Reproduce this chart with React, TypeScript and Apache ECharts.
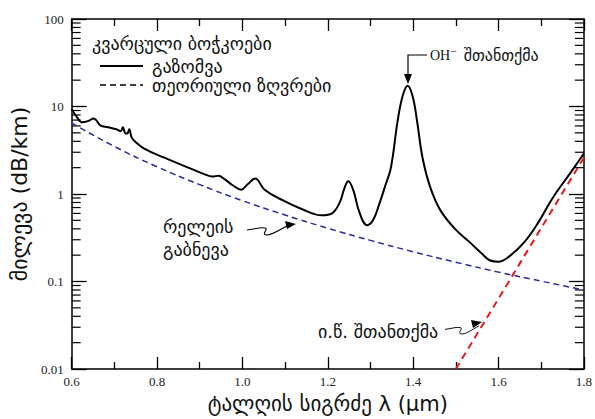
import React, { useEffect, useRef } from "react";
import * as echarts from "echarts";

// measured attenuation (wavelength µm, loss dB/km)
const measuredWl = [
  0.6, 0.612, 0.625, 0.638, 0.652, 0.667, 0.685, 0.705, 0.715, 0.72, 0.725, 0.73, 0.735, 0.74, 0.748,
  0.77, 0.817, 0.863, 0.909, 0.93, 0.944, 0.958, 0.978, 0.997, 1.013, 1.03, 1.052, 1.094, 1.14,
  1.186, 1.21, 1.228, 1.24, 1.248, 1.26, 1.274, 1.292, 1.306, 1.32, 1.336, 1.348, 1.364, 1.376,
  1.387, 1.399, 1.41, 1.422, 1.44, 1.464, 1.498, 1.533, 1.56, 1.579, 1.6, 1.623, 1.66, 1.694,
  1.728, 1.763, 1.8,
];
const measuredLoss = [
  9.4, 7.6, 6.6, 6.8, 7.3, 6.1, 5.8, 5.5, 5.2, 5.8, 5.0, 4.9, 5.5, 4.5, 4.0,
  3.3, 2.6, 2.1, 1.7, 1.58, 1.62, 1.48, 1.25, 1.12, 1.3, 1.5, 1.12, 0.85, 0.67,
  0.57, 0.6, 0.8, 1.2, 1.4, 1.1, 0.62, 0.44, 0.5, 0.75, 1.3, 2.0, 7.0, 13.5,
  17.3, 13.0, 6.4, 2.6, 1.2, 0.65, 0.4, 0.28, 0.21, 0.175, 0.168, 0.19, 0.28, 0.48,
  0.92, 1.6, 2.9,
];
// theoretical Rayleigh scattering limit
const rayleighWl = [0.6, 0.7, 0.8, 0.9, 1.0, 1.1, 1.2, 1.3, 1.4, 1.5, 1.6, 1.7, 1.8];
const rayleighLoss = [6.5, 3.5, 2.05, 1.28, 0.84, 0.575, 0.406, 0.295, 0.219, 0.166, 0.128, 0.101, 0.08];
// infrared absorption limit
const irWl = [1.5, 1.8];
const irLoss = [0.01, 2.6];

const yMinorTicks = [
  0.02, 0.03, 0.04, 0.05, 0.06, 0.07, 0.08, 0.09,
  0.2, 0.3, 0.4, 0.5, 0.6, 0.7, 0.8, 0.9,
  2, 3, 4, 5, 6, 7, 8, 9,
  20, 30, 40, 50, 60, 70, 80, 90,
];

const legendTitle = "კვარცული ბოჭკოები";
const legendMeasured = "გაზომვა";
const legendTheory = "თეორიული ზღვრები";
const ohLabel = "შთანთქმა";
const rayleighLabel = "რელეის\nგაბნევა";
const irLabel = "ი.წ. შთანთქმა";
const xName = "ტალღის სიგრძე λ (μm)";
const yName = "მილევა (dB/km)";

const FONT = '"Liberation Serif", "DejaVu Sans", serif';
const GFONT = '"DejaVu Sans", sans-serif';

const squiggle = "M0,6 C8,5 14,3 18,4 C22,5 14,10 19,11 C24,12 32,6 40,2";
echarts.graphic.registerShape("squiggle", echarts.graphic.extendPath(squiggle, {}) as any);

export default function App() {
  const ref = useRef<HTMLDivElement>(null);
  useEffect(() => {
    if (!ref.current) return;
    document.body.style.margin = "0";
    const chart = echarts.init(ref.current, undefined, { renderer: "svg" });
    const axisLine = { show: true, lineStyle: { color: "#000", width: 1.5 } };
    const axisLabel = { fontFamily: FONT, fontSize: 13, color: "#222" };
    const tickStyle = { color: "#000", width: 1.3 };
    chart.setOption({
      animation: false,
      backgroundColor: "#fff",
      grid: { left: 66, right: 9, top: 19, bottom: 45, containLabel: false },
      xAxis: [
        {
          type: "value",
          min: 0.6,
          max: 1.8,
          interval: 0.2,
          axisLine,
          axisTick: { inside: true, length: 12, lineStyle: tickStyle },
          minorTick: { show: true, splitNumber: 2, length: 7, lineStyle: tickStyle },
          splitLine: { show: false },
          axisLabel: { ...axisLabel, margin: 6, formatter: (v: number) => v.toFixed(1) },
          name: xName,
          nameLocation: "middle",
          nameGap: 24,
          nameTextStyle: { fontFamily: GFONT, fontSize: 21, color: "#111" },
        },
        {
          type: "value",
          position: "top",
          min: 0.6,
          max: 1.8,
          interval: 0.2,
          axisLine,
          axisTick: { inside: true, length: 12, lineStyle: tickStyle },
          minorTick: { show: true, splitNumber: 2, length: 7, lineStyle: tickStyle },
          splitLine: { show: false },
          axisLabel: { show: false },
        },
      ],
      yAxis: [
        {
          type: "log",
          logBase: 10,
          min: 0.01,
          max: 100,
          axisLine,
          axisTick: { inside: true, length: 15, lineStyle: tickStyle },
          splitLine: { show: false },
          axisLabel: {
            ...axisLabel,
            margin: 8,
            formatter: (v: number) => (v >= 1 ? String(Math.round(v)) : String(Number(v.toPrecision(1)))),
          },
          name: yName,
          nameLocation: "middle",
          nameGap: 23,
          nameRotate: 90,
          nameTextStyle: { fontFamily: GFONT, fontSize: 22, color: "#111" },
        },
        {
          type: "log",
          logBase: 10,
          position: "right",
          min: 0.01,
          max: 100,
          axisLine,
          axisTick: { inside: true, length: 15, lineStyle: tickStyle },
          splitLine: { show: false },
          axisLabel: { show: false },
        },
      ],
      series: [
        {
          type: "custom",
          silent: true,
          data: yMinorTicks.map((v) => [0.6, v]),
          renderItem: (_p: any, api: any) => {
            const v = api.value(1);
            const l = api.coord([0.6, v]);
            const r = api.coord([1.8, v]);
            const st = { stroke: "#000", lineWidth: 1.2 };
            return {
              type: "group",
              children: [
                { type: "line", shape: { x1: l[0], y1: l[1], x2: l[0] + 9, y2: l[1] }, style: st },
                { type: "line", shape: { x1: r[0], y1: r[1], x2: r[0] - 9, y2: r[1] }, style: st },
              ],
            };
          },
        },
        {
          type: "line",
          data: rayleighWl.map((w, i) => [w, rayleighLoss[i]]),
          smooth: true,
          showSymbol: false,
          symbol: "none",
          lineStyle: { color: "#2a2a9a", width: 1.5, type: [6, 4] },
        },
        {
          type: "line",
          data: irWl.map((w, i) => [w, irLoss[i]]),
          showSymbol: false,
          symbol: "none",
          lineStyle: { color: "#e31a1c", width: 2, type: [7, 5] },
        },
        {
          type: "line",
          data: measuredWl.map((w, i) => [w, measuredLoss[i]]),
          smooth: 0.4,
          showSymbol: false,
          symbol: "none",
          lineStyle: { color: "#000", width: 2 },
          z: 5,
        },
      ],
      graphic: [
        { type: "text", x: 92, y: 43, style: { text: legendTitle, font: `18px ${GFONT}`, fill: "#111", verticalAlign: "middle" } },
        { type: "line", shape: { x1: 100, y1: 66, x2: 143, y2: 66 }, style: { stroke: "#000", lineWidth: 2 } },
        { type: "text", x: 152, y: 66, style: { text: legendMeasured, font: `18px ${GFONT}`, fill: "#111", verticalAlign: "middle" } },
        { type: "line", shape: { x1: 100, y1: 85, x2: 143, y2: 85 }, style: { stroke: "#000", lineWidth: 1.3, lineDash: [6, 4] } },
        { type: "text", x: 152, y: 85, style: { text: legendTheory, font: `18px ${GFONT}`, fill: "#111", verticalAlign: "middle" } },
        // OH annotation
        { type: "polyline", shape: { points: [[427, 55], [408, 55], [408, 76]] }, style: { stroke: "#000", lineWidth: 1.2, fill: null } },
        { type: "polygon", shape: { points: [[404, 74], [412, 74], [408, 84]] }, style: { fill: "#000" } },
        {
          type: "text",
          x: 430,
          y: 55,
          style: {
            text: "{a|OH}{s|−}  {g|" + ohLabel + "}",
            verticalAlign: "middle",
            rich: {
              a: { fontFamily: FONT, fontSize: 14, fill: "#111" },
              s: { fontFamily: FONT, fontSize: 12, fill: "#111", verticalAlign: "top", padding: [0, 0, 8, 0] },
              g: { fontFamily: GFONT, fontSize: 16, fill: "#111" },
            },
          },
        },
        // Rayleigh annotation
        { type: "text", x: 163, y: 238, style: { text: rayleighLabel, font: `18px ${GFONT}`, fill: "#111", verticalAlign: "middle", lineHeight: 23 } },
        { type: "squiggle", x: 247, y: 224, style: { stroke: "#000", lineWidth: 1.1, fill: null } } as any,
        { type: "polygon", shape: { points: [[296, 224], [285, 221], [287, 229]] }, style: { fill: "#000" } },
        // IR annotation
        { type: "text", x: 318, y: 331, style: { text: irLabel, font: `18px ${GFONT}`, fill: "#111", verticalAlign: "middle" } },
        { type: "squiggle", x: 445, y: 324, scaleX: 0.85, scaleY: 0.9, style: { stroke: "#000", lineWidth: 1.1, fill: null } } as any,
        { type: "polygon", shape: { points: [[482, 322], [471, 320], [473, 328]] }, style: { fill: "#000" } },
      ],
    });
    return () => chart.dispose();
  }, []);
  return <div ref={ref} style={{ width: 595, height: 419 }} />;
}
